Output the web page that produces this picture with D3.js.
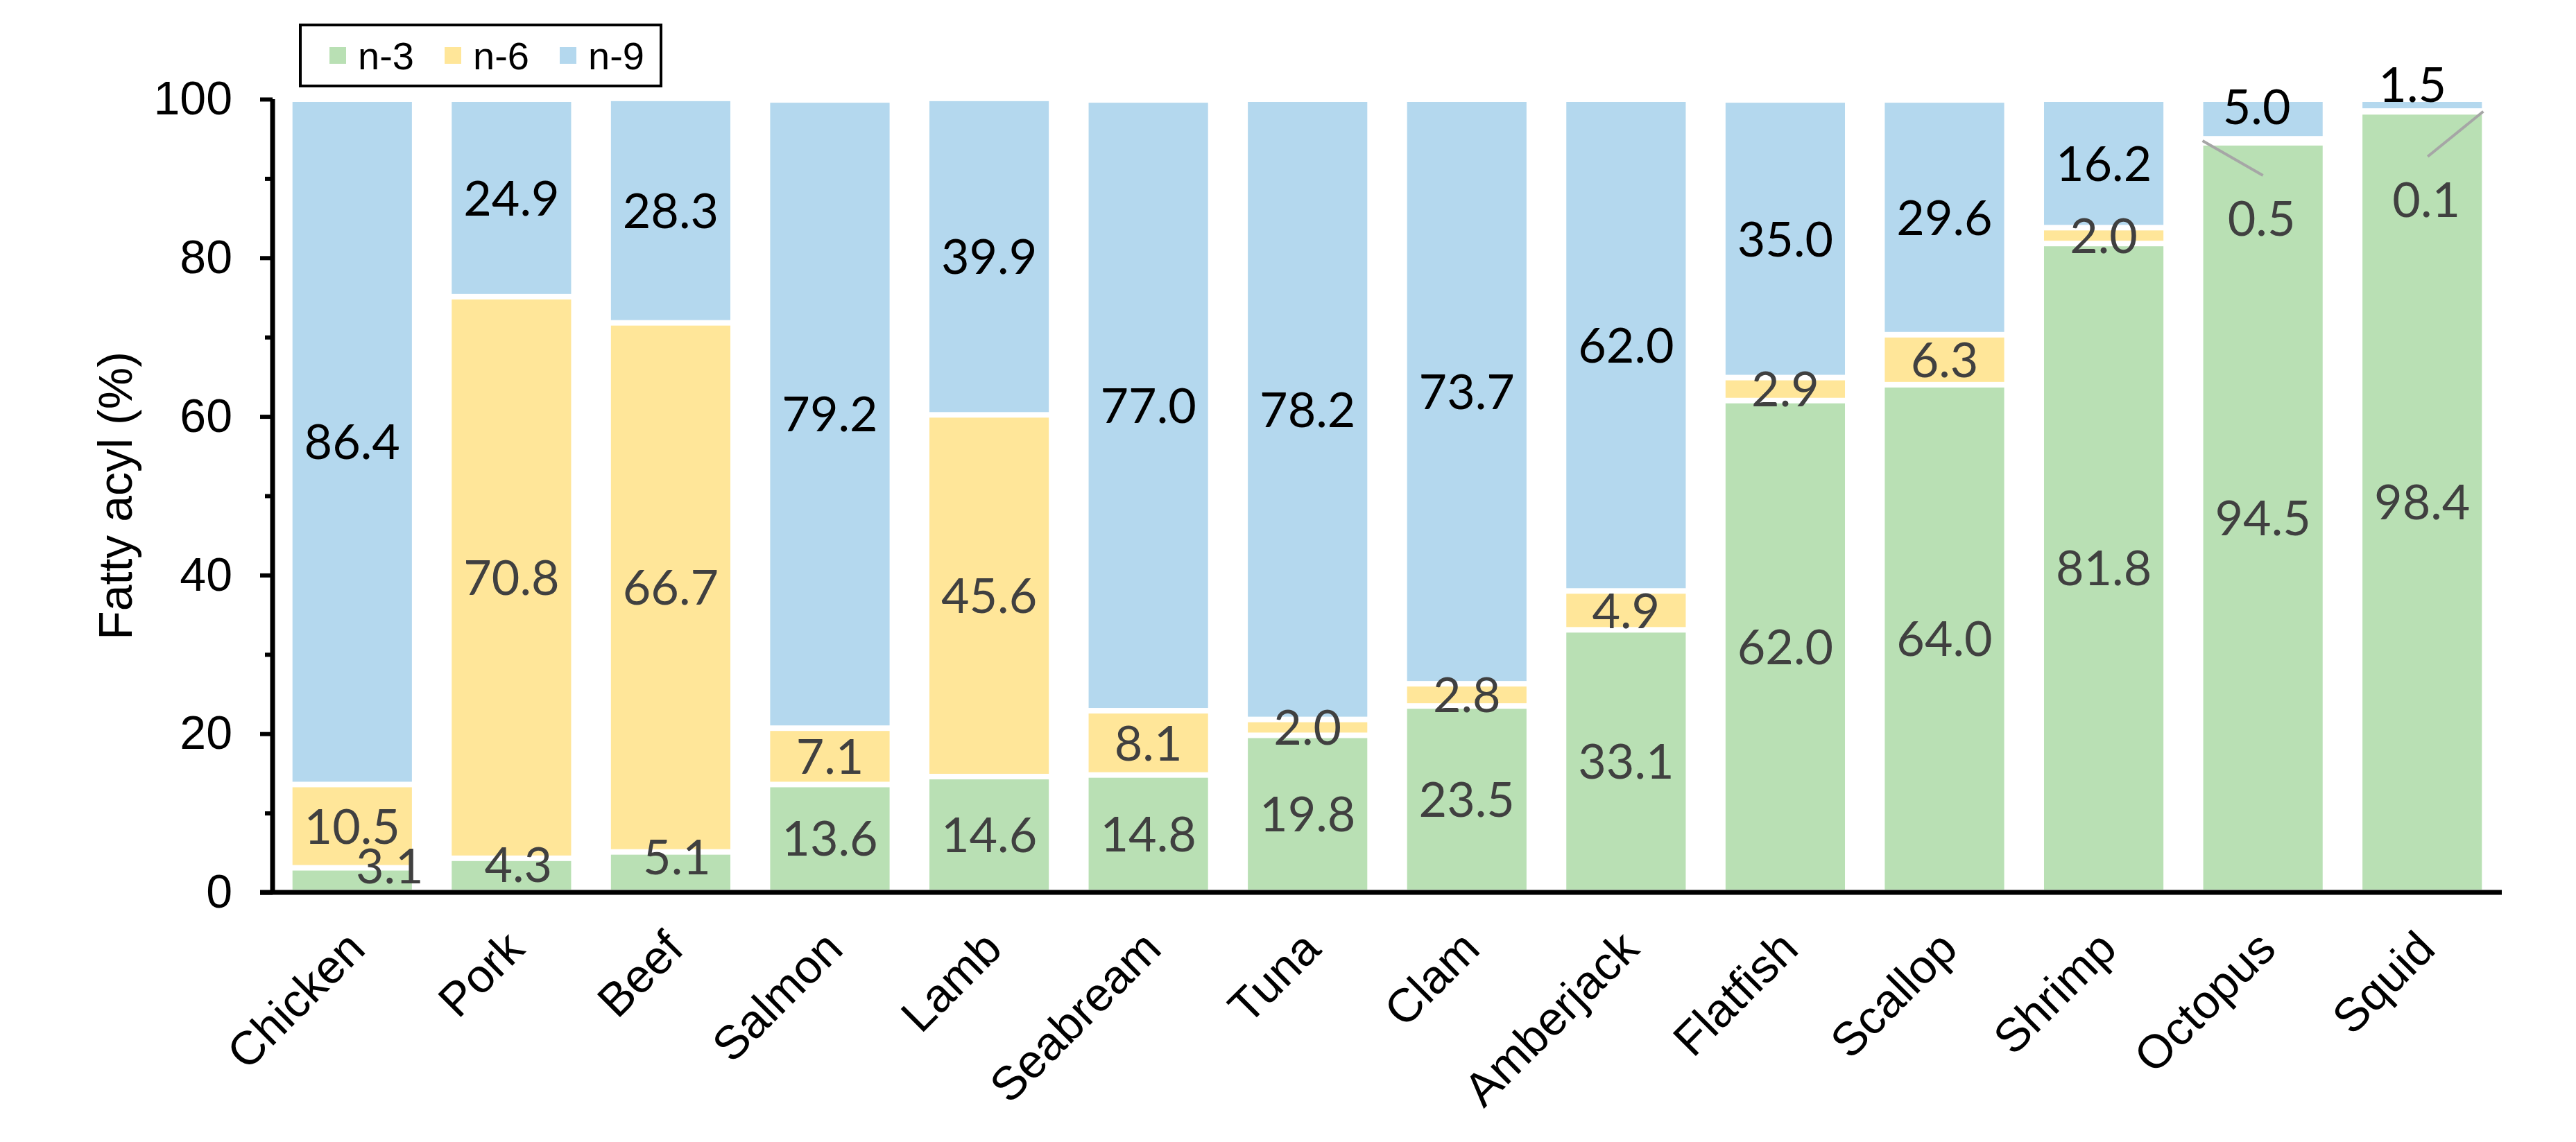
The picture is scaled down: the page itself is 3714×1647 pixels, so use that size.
<!DOCTYPE html>
<html>
<head>
<meta charset="utf-8">
<script src="https://cdn.jsdelivr.net/npm/d3@7"></script>
<style>
  body { margin: 0; background: #fff; }
  text { font-family: Arial, "Liberation Sans", sans-serif; }
</style>
</head>
<body>
<div id="chart"></div>
<script>
// data
var categories = ["Chicken", "Pork", "Beef", "Salmon", "Lamb", "Seabream", "Tuna",
                  "Clam", "Amberjack", "Flatfish", "Scallop", "Shrimp", "Octopus", "Squid"];
var n3 = [3.1, 4.3, 5.1, 13.6, 14.6, 14.8, 19.8, 23.5, 33.1, 62.0, 64.0, 81.8, 94.5, 98.4];
var n6 = [10.5, 70.8, 66.7, 7.1, 45.6, 8.1, 2.0, 2.8, 4.9, 2.9, 6.3, 2.0, 0.5, 0.1];
var n9 = [86.4, 24.9, 28.3, 79.2, 39.9, 77.0, 78.2, 73.7, 62.0, 35.0, 29.6, 16.2, 5.0, 1.5];
var seriesNames = ["n-3", "n-6", "n-9"];
var majorTicks = [0, 20, 40, 60, 80, 100];
var minorTicks = [10, 30, 50, 70, 90];

var colors = { "n-3": "#b9e0b4", "n-6": "#ffe699", "n-9": "#b4d8ee" };
var labelColors = { "n-3": "#404040", "n-6": "#404040", "n-9": "#000" };

// hand-placed labels that don't fit in their segment (pixel nudges)
var labelTweaks = {
  "Chicken|n-3": { dx: 54, dy: -20 },
  "Pork|n-3": { dx: 10, dy: -16 },
  "Beef|n-3": { dx: 9, dy: -22 },
  "Octopus|n-9": { dx: -9, dy: -18 },
  "Squid|n-9": { dx: -14, dy: -30 },
  "Octopus|n-6": { dx: -2, dy: 112, leader: "left" },
  "Squid|n-6": { dx: 6, dy: 127, leader: "right" }
};

var w = 3714, h = 1647;
var plotL = 393, plotR = 3607, plotT = 143, plotB = 1287;
var gap = 8; // white gap between stacked segments

var rows = categories.map(function(c, i) {
  return { cat: c, "n-3": n3[i], "n-6": n6[i], "n-9": n9[i] };
});
var stacked = d3.stack().keys(seriesNames)(rows);

var xScale = d3.scaleBand()
    .domain(categories)
    .range([plotL, plotR])
    .paddingInner(0.25)
    .paddingOuter(0.125);

var yScale = d3.scaleLinear()
    .domain([0, 100])
    .range([plotB, plotT]);

var svg = d3.select("#chart")
    .append("svg")
    .attr("width", w)
    .attr("height", h);

svg.append("rect").attr("width", w).attr("height", h).attr("fill", "#fff");

// bars
var layers = svg.selectAll("g.layer")
    .data(stacked)
    .enter()
    .append("g")
    .attr("class", "layer")
    .attr("fill", function(d) { return colors[d.key]; });

layers.selectAll("rect")
    .data(function(d) { return d; })
    .enter()
    .append("rect")
    .attr("x", function(d) { return xScale(d.data.cat); })
    .attr("width", xScale.bandwidth())
    .attr("y", function(d) { return yScale(d[1]) + gap / 2; })
    .attr("height", function(d) {
      return Math.max(0, yScale(d[0]) - yScale(d[1]) - gap);
    });

// data labels
var labels = [];
stacked.forEach(function(layer) {
  layer.forEach(function(d) {
    var key = d.data.cat + "|" + layer.key;
    var t = labelTweaks[key] || { dx: 0, dy: 0 };
    var cx = xScale(d.data.cat) + xScale.bandwidth() / 2;
    var cy = yScale((d[0] + d[1]) / 2);
    labels.push({
      text: d3.format(".1f")(d[1] - d[0]),
      series: layer.key,
      cat: d.data.cat,
      segY: cy,
      x: cx + t.dx,
      y: cy + t.dy,
      leader: t.leader
    });
  });
});

// leader lines for the tiny n-6 values
svg.selectAll("line.leader")
    .data(labels.filter(function(d) { return d.leader; }))
    .enter()
    .append("line")
    .attr("class", "leader")
    .attr("x1", function(d) {
      return d.leader === "left" ? xScale(d.cat) - 1 : xScale(d.cat) + xScale.bandwidth() + 2;
    })
    .attr("y1", function(d) { return d.segY; })
    .attr("x2", function(d) { return d.x + 2; })
    .attr("y2", function(d) { return d.y - 62; })
    .attr("stroke", "#a6a6a6")
    .attr("stroke-width", 4);

svg.selectAll("text.dlabel")
    .data(labels)
    .enter()
    .append("text")
    .attr("class", "dlabel")
    .attr("x", function(d) { return d.x; })
    .attr("y", function(d) { return d.y; })
    .attr("dy", "0.36em")
    .attr("text-anchor", "middle")
    .style("font-family", "Lato, 'Open Sans', sans-serif")
    .style("font-size", "70px")
    .attr("fill", function(d) { return labelColors[d.series]; })
    .text(function(d) { return d.text; });

// y axis
var yAxis = svg.append("g")
    .attr("transform", "translate(" + plotL + ",0)")
    .call(d3.axisLeft(yScale).tickValues(majorTicks).tickSize(18).tickPadding(40));
yAxis.select(".domain").attr("stroke", "#000").attr("stroke-width", 7)
    .attr("d", "M0," + (plotB + 3) + "V" + plotT);
yAxis.selectAll(".tick line").attr("stroke", "#000").attr("stroke-width", 6);
yAxis.selectAll(".tick text")
    .style("font-size", "68px")
    .attr("fill", "#000");

svg.append("g")
    .attr("transform", "translate(" + plotL + ",0)")
    .call(d3.axisLeft(yScale).tickValues(minorTicks).tickSize(11).tickFormat(""))
    .call(function(g) {
      g.select(".domain").remove();
      g.selectAll(".tick line").attr("stroke", "#000").attr("stroke-width", 6);
    });

// x axis
var xAxis = svg.append("g")
    .attr("transform", "translate(0," + plotB + ")")
    .call(d3.axisBottom(xScale).tickSize(0).tickPadding(0));
xAxis.select(".domain").attr("stroke", "#000").attr("stroke-width", 7)
    .attr("d", "M" + (plotL - 18) + ",0H" + plotR);
xAxis.selectAll(".tick text")
    .style("font-size", "68px")
    .attr("fill", "#000")
    .attr("text-anchor", "end")
    .attr("dy", null)
    .attr("y", null)
    .attr("transform", "translate(22,85) rotate(-45)");

// y axis title
svg.append("text")
    .attr("transform", "translate(190," + ((plotT + plotB) / 2) + ") rotate(-90)")
    .attr("text-anchor", "middle")
    .style("font-size", "68px")
    .text("Fatty acyl (%)");

// legend
var legend = svg.append("g").attr("transform", "translate(433,36)");
legend.append("rect")
    .attr("width", 520)
    .attr("height", 88)
    .attr("fill", "#fff")
    .attr("stroke", "#000")
    .attr("stroke-width", 4);
var items = legend.selectAll("g.item")
    .data(seriesNames)
    .enter()
    .append("g")
    .attr("class", "item")
    .attr("transform", function(d, i) { return "translate(" + (42 + i * 166) + ",0)"; });
items.append("rect")
    .attr("y", 32)
    .attr("width", 24)
    .attr("height", 24)
    .attr("fill", function(d) { return colors[d]; });
items.append("text")
    .attr("x", 41)
    .attr("y", 44)
    .attr("dy", "0.36em")
    .style("font-size", "56px")
    .text(function(d) { return d; });
</script>
</body>
</html>
